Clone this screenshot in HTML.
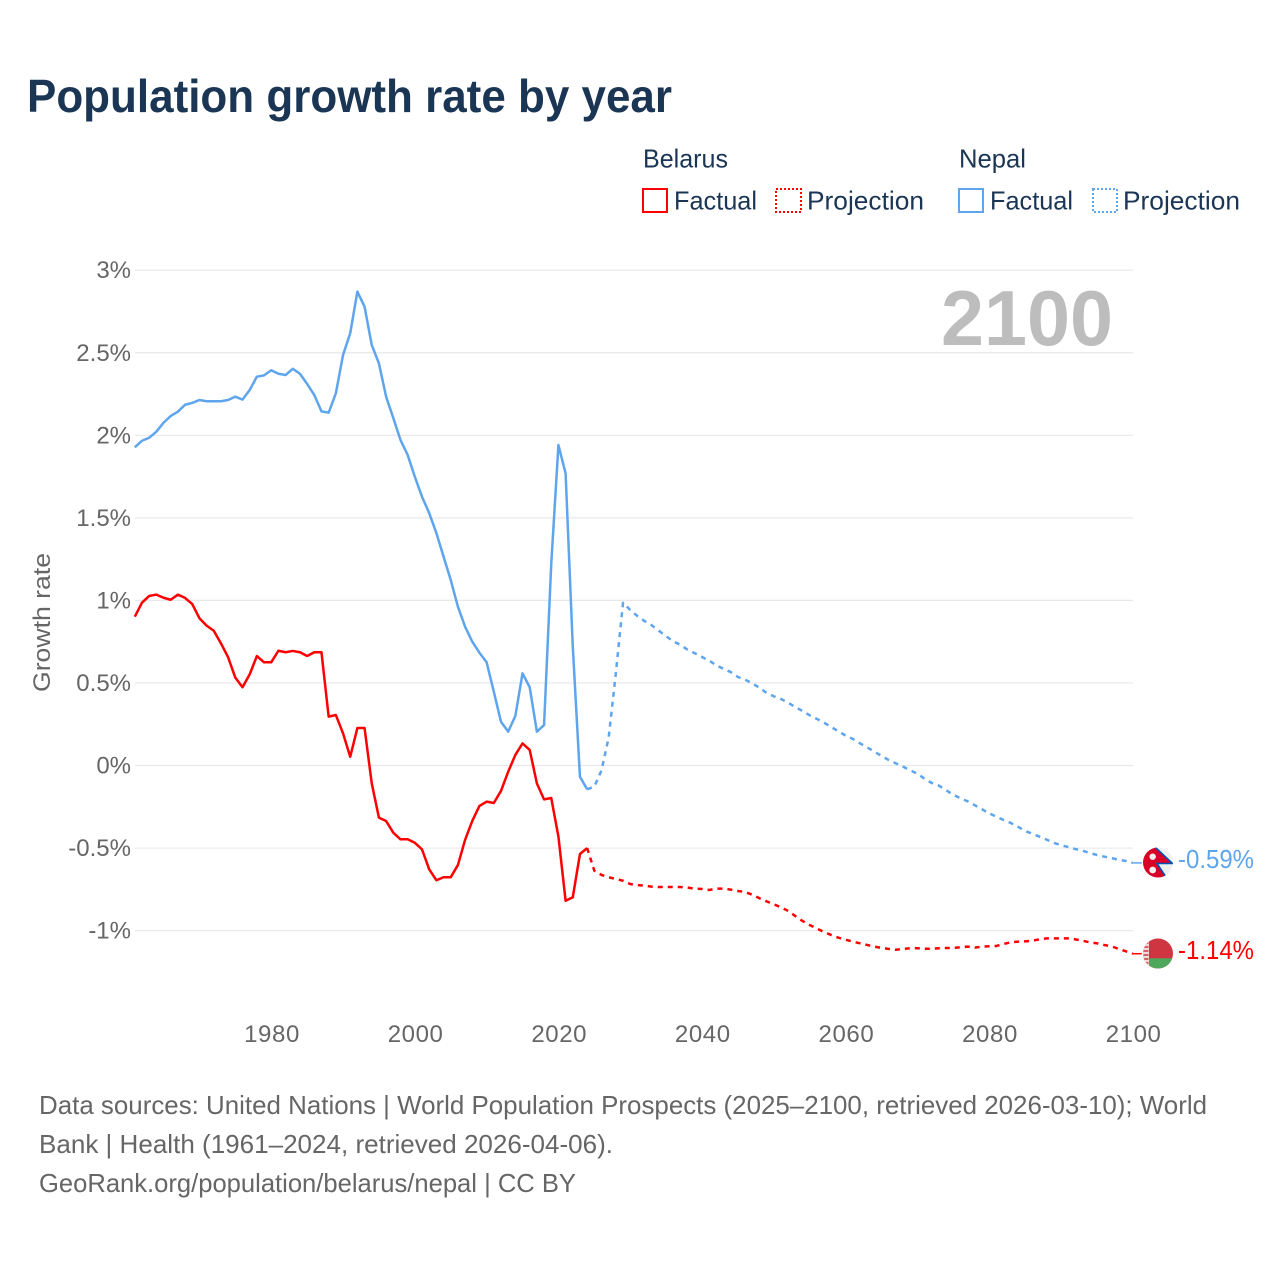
<!DOCTYPE html>
<html lang="en">
<head>
<meta charset="utf-8">
<title>Population growth rate by year</title>
<style>
  html, body { margin: 0; padding: 0; background: #ffffff; }
  svg { display: block; }
  text { font-family: "Liberation Sans", "DejaVu Sans", sans-serif; }
</style>
</head>
<body>
<svg id="chart" xmlns="http://www.w3.org/2000/svg" width="1280" height="1280" viewBox="0 0 1280 1280">
  <rect x="0" y="0" width="1280" height="1280" fill="#ffffff"/>
  <text x="27" y="112" font-size="46" font-weight="700" fill="#1b3555" textLength="645" lengthAdjust="spacingAndGlyphs">Population growth rate by year</text>

  <g font-size="26" fill="#1b3555">
    <text x="643" y="167.5" textLength="85" lengthAdjust="spacingAndGlyphs">Belarus</text>
    <text x="959" y="167.5" textLength="67" lengthAdjust="spacingAndGlyphs">Nepal</text>
    <rect x="643" y="189" width="24" height="23" fill="none" stroke="#ff0000" stroke-width="2"/>
    <text x="674" y="209.5" textLength="83" lengthAdjust="spacingAndGlyphs">Factual</text>
    <rect x="776" y="189" width="25" height="23" fill="none" stroke="#ff0000" stroke-width="2" stroke-dasharray="2 2"/>
    <text x="807" y="209.5" textLength="117" lengthAdjust="spacingAndGlyphs">Projection</text>
    <rect x="959" y="189" width="24" height="23" fill="none" stroke="#5ea5ee" stroke-width="2"/>
    <text x="990" y="209.5" textLength="83" lengthAdjust="spacingAndGlyphs">Factual</text>
    <rect x="1093" y="189" width="24" height="23" fill="none" stroke="#5ea5ee" stroke-width="2" stroke-dasharray="2 2"/>
    <text x="1123" y="209.5" textLength="117" lengthAdjust="spacingAndGlyphs">Projection</text>
  </g>

  <g id="grid"></g>
  <g id="yticks" font-size="24" fill="#666666" text-anchor="end"></g>
  <g id="xticks" font-size="24" fill="#666666" text-anchor="middle"></g>

  <text transform="translate(50 692) rotate(-90)" font-size="24" fill="#666666" textLength="139" lengthAdjust="spacingAndGlyphs">Growth rate</text>
  <text x="941" y="345" font-size="78" font-weight="700" fill="#bdbdbd" textLength="172" lengthAdjust="spacingAndGlyphs">2100</text>

  <g id="series"></g>

  <defs>
    <clipPath id="clip-nepal"><circle cx="1158" cy="862.5" r="15"/></clipPath>
    <clipPath id="clip-belarus"><circle cx="1158" cy="953.5" r="15"/></clipPath>
  </defs>
  <g clip-path="url(#clip-nepal)">
    <rect x="1143" y="847" width="30" height="31" fill="#f0f0f0"/>
    <path d="M1142 846 L1155 847 L1172.5 863.5 L1157 863.5 L1167 878.5 L1142 879 Z" fill="#d80027" stroke="#0052b4" stroke-width="1.6"/>
    <circle cx="1152.7" cy="856.7" r="3.2" fill="#f0f0f0"/>
    <circle cx="1152.7" cy="870" r="3.4" fill="#f0f0f0"/>
  </g>
  <g clip-path="url(#clip-belarus)">
    <rect x="1143" y="938" width="30" height="31" fill="#cf3540"/>
    <rect x="1143" y="958.3" width="30" height="11" fill="#4ea75a"/>
    <rect x="1143" y="938" width="6" height="31" fill="#f3d9db"/>
    <line x1="1146" y1="938" x2="1146" y2="969" stroke="#d9606a" stroke-width="5" stroke-dasharray="2 2"/>
  </g>
  <text x="1178" y="868" font-size="26" fill="#5ea5ee" textLength="76" lengthAdjust="spacingAndGlyphs">-0.59%</text>
  <text x="1178" y="959" font-size="26" fill="#ff0000" textLength="76" lengthAdjust="spacingAndGlyphs">-1.14%</text>

  <g font-size="26" fill="#666666">
    <text x="39" y="1114" textLength="1168" lengthAdjust="spacingAndGlyphs">Data sources: United Nations | World Population Prospects (2025–2100, retrieved 2026-03-10); World</text>
    <text x="39" y="1153" textLength="574" lengthAdjust="spacingAndGlyphs">Bank | Health (1961–2024, retrieved 2026-04-06).</text>
    <text x="39" y="1192" textLength="537" lengthAdjust="spacingAndGlyphs">GeoRank.org/population/belarus/nepal | CC BY</text>
  </g>
</svg>
<script>
const xTickYears = [1980, 2000, 2020, 2040, 2060, 2080, 2100];
const yTickValues = [3, 2.5, 2, 1.5, 1, 0.5, 0, -0.5, -1];
const yTickLabels = ["3%", "2.5%", "2%", "1.5%", "1%", "0.5%", "0%", "-0.5%", "-1%"];
const factualStartYear = 1961;
const projectionStartYear = 2024;

const belarusFactual = [
  0.901, 0.986, 1.027, 1.035, 1.016, 1.004, 1.035, 1.015, 0.978, 0.892,
  0.847, 0.816, 0.740, 0.655, 0.532, 0.474, 0.552, 0.663, 0.625, 0.625,
  0.695, 0.686, 0.694, 0.686, 0.663, 0.686, 0.686, 0.296, 0.306, 0.195,
  0.053, 0.227, 0.227, -0.108, -0.316, -0.336, -0.407, -0.447, -0.447, -0.468,
  -0.508, -0.629, -0.695, -0.677, -0.677, -0.603, -0.451, -0.336, -0.245, -0.219,
  -0.227, -0.154, -0.038, 0.064, 0.134, 0.094, -0.108, -0.205, -0.197, -0.431,
  -0.819, -0.798, -0.536, -0.500
];
const belarusProjection = [
  -0.500, -0.637, -0.663, -0.677, -0.687, -0.698,
  -0.718, -0.724, -0.728, -0.734, -0.736, -0.736, -0.736, -0.736, -0.740, -0.746,
  -0.748, -0.754, -0.746, -0.746, -0.752, -0.760, -0.766, -0.783, -0.804, -0.823,
  -0.841, -0.859, -0.881, -0.912, -0.942, -0.966, -0.988, -1.008, -1.027, -1.043,
  -1.055, -1.067, -1.077, -1.087, -1.097, -1.105, -1.111, -1.116, -1.111, -1.107,
  -1.107, -1.110, -1.110, -1.107, -1.105, -1.105, -1.101, -1.097, -1.103, -1.097,
  -1.095, -1.093, -1.081, -1.071, -1.067, -1.065, -1.061, -1.053, -1.047, -1.047,
  -1.047, -1.047, -1.053, -1.061, -1.071, -1.077, -1.087, -1.095, -1.110, -1.125,
  -1.14
];
const nepalFactual = [
  1.927, 1.967, 1.985, 2.022, 2.076, 2.117, 2.143, 2.185, 2.196, 2.214,
  2.206, 2.206, 2.206, 2.214, 2.234, 2.216, 2.274, 2.355, 2.363, 2.394,
  2.373, 2.365, 2.403, 2.373, 2.311, 2.244, 2.145, 2.137, 2.254, 2.486,
  2.618, 2.870, 2.779, 2.547, 2.436, 2.234, 2.105, 1.972, 1.881, 1.749,
  1.628, 1.529, 1.408, 1.265, 1.124, 0.962, 0.841, 0.750, 0.683, 0.625,
  0.447, 0.265, 0.205, 0.300, 0.558, 0.474, 0.205, 0.245, 1.220, 1.941,
  1.770, 0.720, -0.068, -0.144
];
const nepalProjection = [
  -0.144, -0.128, -0.030, 0.170, 0.560, 0.986,
  0.942, 0.905, 0.875, 0.849, 0.816, 0.783, 0.752, 0.730, 0.701, 0.680,
  0.657, 0.635, 0.607, 0.585, 0.566, 0.536, 0.520, 0.498, 0.471, 0.439,
  0.419, 0.403, 0.380, 0.354, 0.330, 0.304, 0.282, 0.259, 0.233, 0.207,
  0.181, 0.161, 0.134, 0.110, 0.084, 0.058, 0.033, 0.013, -0.007, -0.029,
  -0.050, -0.080, -0.106, -0.122, -0.150, -0.177, -0.199, -0.217, -0.241, -0.265,
  -0.290, -0.310, -0.330, -0.348, -0.371, -0.397, -0.413, -0.431, -0.449, -0.469,
  -0.482, -0.494, -0.506, -0.516, -0.530, -0.542, -0.552, -0.560, -0.571, -0.578,
  -0.59
];

const SVG_NS = "http://www.w3.org/2000/svg";
const belarusColor = "#ff0000";
const nepalColor = "#5ea5ee";

function xScale(year) { return 134.8 + (year - 1961) * 7.18; }
function yScale(value) { return 765.5 - value * 165.1; }

function linePath(values, startYear) {
  let d = "";
  for (let i = 0; i < values.length; i++) {
    d += (i === 0 ? "M" : "L") + xScale(startYear + i).toFixed(2) + " " + yScale(values[i]).toFixed(2) + " ";
  }
  return d.trim();
}

const gridGroup = document.getElementById("grid");
const yTickGroup = document.getElementById("yticks");
const xTickGroup = document.getElementById("xticks");
const seriesGroup = document.getElementById("series");

yTickValues.forEach(function (value, i) {
  const line = document.createElementNS(SVG_NS, "line");
  
  
  line.setAttribute("x1", xScale(1961) + 0.2);
  line.setAttribute("x2", xScale(2100) + 0.2);
  line.setAttribute("y1", yScale(value));
  line.setAttribute("y2", yScale(value));
  line.setAttribute("stroke", "#e8e8e8");
  line.setAttribute("stroke-width", "1.2");
  gridGroup.appendChild(line);

  const label = document.createElementNS(SVG_NS, "text");
  
  
  label.setAttribute("x", 131);
  label.setAttribute("y", yScale(value) + 8);
  label.textContent = yTickLabels[i];
  yTickGroup.appendChild(label);
});

xTickYears.forEach(function (year) {
  const label = document.createElementNS(SVG_NS, "text");
  
  
  label.setAttribute("x", xScale(year) + 0.8);
  label.setAttribute("y", 1042);
  label.setAttribute("letter-spacing", "0.6");
  label.textContent = String(year);
  xTickGroup.appendChild(label);
});

function drawLine(name, values, startYear, color, dashed) {
  const path = document.createElementNS(SVG_NS, "path");
  
  
  path.setAttribute("d", linePath(values, startYear));
  path.setAttribute("fill", "none");
  path.setAttribute("stroke", color);
  path.setAttribute("stroke-width", "2.5");
  path.setAttribute("stroke-linejoin", "round");
  if (dashed) { path.setAttribute("stroke-dasharray", "5 5"); }
  seriesGroup.appendChild(path);
}

function drawConnector(name, values, color) {
  const last = values[values.length - 1];
  const connector = document.createElementNS(SVG_NS, "line");
  
  
  connector.setAttribute("x1", xScale(2100));
  connector.setAttribute("x2", xScale(2100) + 9);
  connector.setAttribute("y1", yScale(last));
  connector.setAttribute("y2", yScale(last));
  connector.setAttribute("stroke", color);
  connector.setAttribute("stroke-width", "1.5");
  seriesGroup.appendChild(connector);
}

drawLine("nepal-factual-line", nepalFactual, factualStartYear, nepalColor, false);
drawLine("nepal-projection-line", nepalProjection, projectionStartYear, nepalColor, true);
drawLine("belarus-factual-line", belarusFactual, factualStartYear, belarusColor, false);
drawLine("belarus-projection-line", belarusProjection, projectionStartYear, belarusColor, true);
drawConnector("nepal-end-connector", nepalProjection, nepalColor);
drawConnector("belarus-end-connector", belarusProjection, belarusColor);
</script>
</body>
</html>
